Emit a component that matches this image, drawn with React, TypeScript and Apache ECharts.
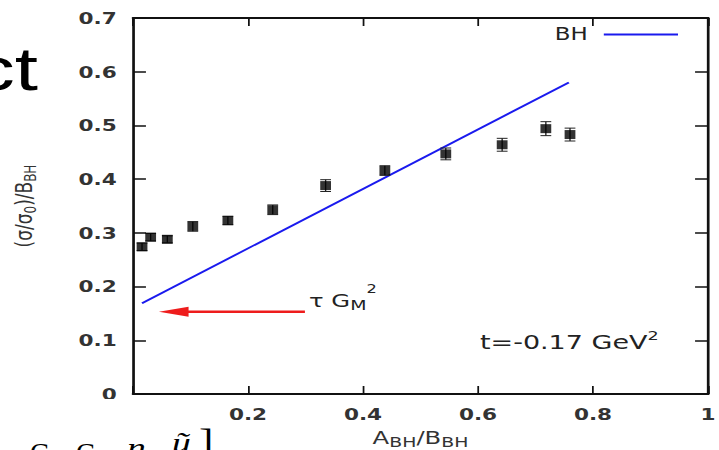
import React, { useEffect, useRef } from "react";
import * as echarts from "echarts";

// ---- data ----
const xValues = [0.0157, 0.0307, 0.0597, 0.104, 0.165, 0.243, 0.335, 0.438, 0.544, 0.642, 0.718, 0.76];
const yValues = [0.274, 0.292, 0.288, 0.312, 0.323, 0.343, 0.388, 0.416, 0.447, 0.464, 0.494, 0.483];
const yErrors = [0.007, 0.007, 0.0065, 0.009, 0.008, 0.009, 0.011, 0.009, 0.011, 0.012, 0.013, 0.012];
const bhLineX = [0.0157, 0.758];
const bhLineY = [0.169, 0.58];
const arrowFrom = [0.299, 0.153];
const arrowTo = [0.045, 0.153];
const xAxisRange = [0, 1, 0.2];
const yAxisRange = [0, 0.7, 0.1];
const legendNames = ["BH"];

// ---- layout ----
const OUTER_W = 719;
const OUTER_H = 450;
const INNER_W = 533;
const S = OUTER_W / INNER_W; // horizontal stretch of the pasted plot
const ix = (x: number) => x / S;

const FONT = '"DejaVu Sans", Verdana, sans-serif';
const SERIF = '"Liberation Serif", "DejaVu Serif", serif';
const AXIS_COLOR = "#111";
const BLUE = "#1a1aee";
const RED = "#ee1c1c";

function buildOption(): any {
  const scatterData = xValues.map((x, i) => [x, yValues[i]]);
  const errData = xValues.map((x, i) => [x, yValues[i], yErrors[i]]);
  const bhData = bhLineX.map((x, i) => [x, bhLineY[i]]);

  const baseX = {
    type: "value",
    min: xAxisRange[0],
    max: xAxisRange[1],
    interval: xAxisRange[2],
    splitLine: { show: false },
    axisLine: { show: true, onZero: false, lineStyle: { color: AXIS_COLOR, width: 2 } },
    axisTick: { show: true, inside: true, length: 8, lineStyle: { color: AXIS_COLOR, width: 1.3 } },
  };
  const baseY = {
    type: "value",
    min: yAxisRange[0],
    max: yAxisRange[1],
    interval: yAxisRange[2],
    splitLine: { show: false },
    axisLine: { show: true, onZero: false, lineStyle: { color: AXIS_COLOR, width: 2 } },
    axisTick: { show: true, inside: true, length: 9.6, lineStyle: { color: AXIS_COLOR, width: 1.5 } },
  };

  return {
    animation: false,
    backgroundColor: "#fff",
    grid: {
      left: ix(133),
      right: INNER_W - ix(708),
      top: 18,
      bottom: OUTER_H - 394,
      containLabel: false,
      outerBoundsMode: "none",
    },
    legend: {
      data: [{ name: legendNames[0], icon: "rect" }],
      right: INNER_W - ix(678),
      top: 26,
      padding: 0,
      align: "right",
      itemWidth: 55,
      itemHeight: 2,
      selectedMode: false,
      textStyle: { fontFamily: FONT, fontSize: 17, color: "#222", padding: [0, 7, 0, 0] },
    },
    xAxis: [
      {
        ...baseX,
        position: "bottom",
        axisLabel: {
          margin: 12,
          fontFamily: FONT,
          fontSize: 16,
          fontWeight: "bold",
          color: "#333",
          formatter: (v: number) => (v === 0 ? "" : String(+v.toFixed(1))),
        },
        name: "A{sub|BH}/B{sub|BH}",
        nameLocation: "middle",
        nameGap: 27,
        nameTextStyle: {
          fontFamily: FONT,
          fontSize: 18,
          color: "#333",
          lineHeight: 22,
          rich: { sub: { fontFamily: FONT, fontSize: 14, color: "#333", lineHeight: 14, verticalAlign: "bottom" } },
        },
      },
      {
        ...baseX,
        position: "top",
        axisLabel: { show: false },
      },
    ],
    yAxis: [
      {
        ...baseY,
        position: "left",
        axisLabel: {
          margin: 12,
          fontFamily: FONT,
          fontSize: 16,
          fontWeight: "bold",
          color: "#333",
          formatter: (v: number) => (v === 0 ? "0" : v.toFixed(1)),
        },
        name: "(σ/σ{sub|0})/B{sub|BH}",
        nameLocation: "middle",
        nameGap: 70,
        nameTextStyle: {
          fontFamily: FONT,
          fontSize: 17,
          color: "#333",
          lineHeight: 22,
          rich: { sub: { fontFamily: FONT, fontSize: 12, color: "#333", lineHeight: 13, verticalAlign: "bottom" } },
        },
      },
      {
        ...baseY,
        position: "right",
        axisLabel: { show: false },
      },
    ],
    series: [
      {
        type: "line",
        name: "BH",
        xAxisIndex: 0,
        yAxisIndex: 0,
        data: bhData,
        symbol: "none",
        lineStyle: { color: BLUE, width: 1.8 },
        itemStyle: { color: BLUE },
        z: 2,
      },
      {
        type: "custom",
        name: "errors",
        xAxisIndex: 0,
        yAxisIndex: 0,
        data: errData,
        encode: { x: 0, y: 1 },
        z: 3,
        renderItem: (params: any, api: any) => {
          const x = api.value(0);
          const y = api.value(1);
          const e = api.value(2);
          const top = api.coord([x, y + e]);
          const bot = api.coord([x, y - e]);
          const hw = 4;
          const st = { stroke: "#222", lineWidth: 1 };
          return {
            type: "group",
            children: [
              { type: "line", shape: { x1: top[0], y1: top[1], x2: bot[0], y2: bot[1] }, style: st },
              { type: "line", shape: { x1: top[0] - hw, y1: top[1], x2: top[0] + hw, y2: top[1] }, style: st },
              { type: "line", shape: { x1: bot[0] - hw, y1: bot[1], x2: bot[0] + hw, y2: bot[1] }, style: st },
            ],
          };
        },
      },
      {
        type: "scatter",
        name: "data",
        xAxisIndex: 0,
        yAxisIndex: 0,
        data: scatterData,
        symbol: "rect",
        symbolSize: [8, 9],
        itemStyle: { color: "#000" },
        z: 4,
      },
      {
        type: "custom",
        name: "arrow",
        xAxisIndex: 0,
        yAxisIndex: 0,
        data: [[arrowFrom[0], arrowFrom[1], arrowTo[0], arrowTo[1]]],
        encode: { x: [0, 2], y: [1, 3] },
        z: 5,
        renderItem: (params: any, api: any) => {
          const p1 = api.coord([api.value(0), api.value(1)]);
          const p2 = api.coord([api.value(2), api.value(3)]);
          const headLen = 22;
          const hh = 5;
          return {
            type: "group",
            children: [
              {
                type: "line",
                shape: { x1: p1[0], y1: p1[1], x2: p2[0] + headLen - 2, y2: p2[1] },
                style: { stroke: RED, lineWidth: 2.6 },
              },
              {
                type: "polygon",
                shape: {
                  points: [
                    [p2[0], p2[1]],
                    [p2[0] + headLen, p2[1] - hh],
                    [p2[0] + headLen, p2[1] + hh],
                  ],
                },
                style: { fill: RED },
              },
            ],
          };
        },
      },
    ],
    graphic: [
      {
        type: "text",
        x: ix(38),
        y: 69,
        z: 10,
        style: {
          text: "ct",
          fontFamily: '"Liberation Sans", Arial, sans-serif',
          fontSize: 62,
          fill: "#000",
          align: "right",
          verticalAlign: "middle",
          textAlign: "right",
          textVerticalAlign: "middle",
        },
      },
      {
        type: "text",
        x: ix(309),
        y: 301,
        z: 10,
        style: {
          text: "τ G{sub|M}{sup|2}",
          fontFamily: FONT,
          fontSize: 18,
          lineHeight: 36,
          fill: "#222",
          verticalAlign: "middle",
          textVerticalAlign: "middle",
          rich: {
            sub: { fontFamily: FONT, fontSize: 14, lineHeight: 16, verticalAlign: "middle", padding: [8, 0, 0, 0], fill: "#222" },
            sup: { fontFamily: FONT, fontSize: 12, lineHeight: 12, verticalAlign: "top", fill: "#222" },
          },
        },
      },
      {
        type: "text",
        x: ix(480),
        y: 342,
        z: 10,
        style: {
          text: "t=-0.17 GeV{sup|2}",
          fontFamily: FONT,
          fontSize: 20,
          lineHeight: 26,
          fill: "#222",
          verticalAlign: "middle",
          textVerticalAlign: "middle",
          rich: {
            sup: { fontFamily: FONT, fontSize: 13, lineHeight: 12, verticalAlign: "top", fill: "#222" },
          },
        },
      },
      {
        type: "rect",
        z: 20,
        shape: { x: ix(60), y: 399, width: ix(66), height: 51 },
        style: { fill: "#fff" },
      },
      {
        type: "text",
        x: ix(30),
        y: 452,
        z: 21,
        scaleX: 1 / S,
        style: { text: "G", fontFamily: SERIF, fontSize: 28, fill: "#000", verticalAlign: "middle", textVerticalAlign: "middle" },
      },
      {
        type: "text",
        x: ix(76),
        y: 452,
        z: 21,
        scaleX: 1 / S,
        style: { text: "G", fontFamily: SERIF, fontSize: 28, fill: "#000", verticalAlign: "middle", textVerticalAlign: "middle" },
      },
      {
        type: "text",
        x: ix(127),
        y: 447,
        z: 21,
        style: { text: "n", fontFamily: SERIF, fontSize: 28, fontStyle: "italic", fill: "#000", verticalAlign: "middle", textVerticalAlign: "middle" },
      },
      {
        type: "text",
        x: ix(172),
        y: 442,
        z: 21,
        style: { text: "ũ", fontFamily: SERIF, fontSize: 28, fontStyle: "italic", fill: "#000", verticalAlign: "middle", textVerticalAlign: "middle" },
      },
      {
        type: "text",
        x: ix(199),
        y: 440,
        z: 21,
        style: { text: "]", fontFamily: SERIF, fontSize: 32, fill: "#000", verticalAlign: "middle", textVerticalAlign: "middle" },
      },
    ],
  };
}

export default function App() {
  const ref = useRef<HTMLDivElement>(null);
  useEffect(() => {
    if (!ref.current) return;
    const chart = echarts.init(ref.current, null, { renderer: "svg" });
    chart.setOption(buildOption());
    return () => {
      chart.dispose();
    };
  }, []);
  return (
    <div
      style={{
        position: "fixed",
        left: 0,
        top: 0,
        width: OUTER_W,
        height: OUTER_H,
        overflow: "hidden",
        background: "#fff",
      }}
    >
      <div
        ref={ref}
        style={{
          width: INNER_W,
          height: OUTER_H,
          transform: `scaleX(${S})`,
          transformOrigin: "0 0",
        }}
      />
    </div>
  );
}
